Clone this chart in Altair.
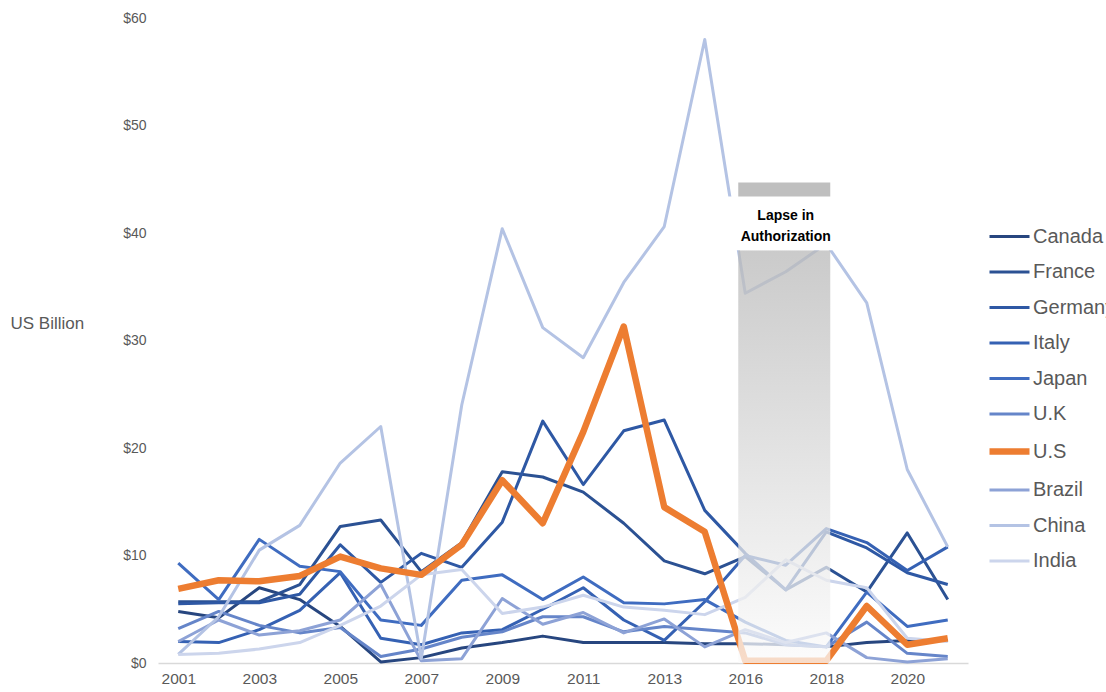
import altair as alt
import pandas as pd

years = ["2001", "2002", "2003", "2004", "2005", "2006", "2007", "2008", "2009", "2010",
         "2011", "2012", "2013", "2014", "2016", "2017", "2018", "2019", "2020", "2021"]
label_years = ["2001", "2003", "2005", "2007", "2009", "2011", "2013", "2016", "2018", "2020"]

countries = ["Canada", "France", "Germany", "Italy", "Japan", "U.K", "U.S", "Brazil", "China", "India"]
colors = ["#27467f", "#2b5193", "#2e58a4", "#3561b3", "#3f6cc0", "#6585c9", "#ed7d31",
          "#8da2d6", "#b4c3e4", "#ccd5ec"]
widths = [3, 3, 3, 3, 3, 3, 6.5, 3, 3, 3]
highlight = "U.S"

canada = [4.8, 4.2, 7.0, 5.9, 3.4, 0.1, 0.5, 1.4, 1.9, 2.5, 1.9, 1.9, 1.9, 1.8, 1.8, 1.7, 1.5, 1.9, 2.1, 2.1]
france = [5.7, 5.7, 5.7, 7.3, 12.7, 13.3, 8.5, 11.2, 17.8, 17.3, 15.9, 13.0, 9.5, 8.3, 9.9, 6.8, 8.9, 6.6, 12.1, 5.9]
germany = [5.5, 5.6, 5.6, 6.4, 11.0, 7.5, 10.2, 8.9, 13.1, 22.5, 16.6, 21.6, 22.6, 14.2, 10.2, 6.8, 12.2, 10.7, 8.4, 7.3]
italy = [2.0, 1.9, 3.1, 4.9, 8.4, 2.3, 1.7, 2.8, 3.1, 5.0, 7.0, 4.0, 2.1, 5.7, 10.0, 9.1, 12.5, 11.2, 8.6, 10.8]
japan = [9.3, 5.9, 11.5, 9.0, 8.5, 4.0, 3.5, 7.7, 8.2, 5.9, 8.0, 5.6, 5.5, 5.9, 3.8, 2.1, 1.5, 6.6, 3.4, 4.0]
uk = [3.2, 4.8, 3.5, 2.8, 3.3, 0.6, 1.3, 2.4, 2.9, 4.3, 4.3, 2.9, 3.4, 3.1, 2.8, 1.7, 1.5, 3.8, 0.9, 0.6]
us = [6.9, 7.7, 7.6, 8.1, 9.9, 8.8, 8.2, 11.0, 17.0, 13.0, 21.5, 31.3, 14.5, 12.2, 0.2, 0.2, 0.2, 5.3, 1.7, 2.3]
brazil = [2.0, 4.0, 2.6, 3.0, 4.0, 7.3, 0.2, 0.4, 6.0, 3.6, 4.7, 2.8, 4.1, 1.5, 3.1, 1.9, 2.8, 0.5, 0.1, 0.4]
china = [0.8, 4.3, 10.5, 12.8, 18.6, 22.0, 0.4, 24.0, 40.4, 31.2, 28.4, 35.4, 40.6, 58.0, 34.4, 36.4, 39.0, 33.5, 18.0, 10.8]
india = [0.8, 0.9, 1.3, 1.9, 3.5, 5.3, 8.2, 8.7, 4.6, 5.2, 6.3, 5.2, 4.9, 4.5, 6.1, 9.6, 7.7, 7.0, 2.3, 2.0]

series = [canada, france, germany, italy, japan, uk, us, brazil, china, india]

# annotation (lapse in authorization period)
lapse_start = "2016"
lapse_end = "2018"
lapse_label_year = "2017"
lapse_shade_top = 38.4
lapse_label_top = 43.4
lapse_header_top = 44.7
lapse_text = "Lapse in\nAuthorization"
lapse_text_y = 41.6

rows = []
for name, vals in zip(countries, series):
    for i, (yr, v) in enumerate(zip(years, vals)):
        rows.append({"Year": yr, "Value": v, "Country": name, "idx": i})
df = pd.DataFrame(rows)

x_scale = alt.Scale(domain=years, type="point", padding=0.5)
y_scale = alt.Scale(domain=[0, 60], nice=False)

x_enc = alt.X("Year:O", sort=years, scale=x_scale,
              axis=alt.Axis(title=None, values=label_years, labelAngle=0, ticks=False,
                            domainColor="#d9d9d9", domainWidth=1.5, labelColor="#595959",
                            labelFontSize=15.5, labelFont="Liberation Sans", labelPadding=8))
y_enc = alt.Y("Value:Q", scale=y_scale,
              axis=alt.Axis(title="US Billion", values=[0, 10, 20, 30, 40, 50, 60],
                            labelExpr="'$' + datum.value", grid=False, ticks=False, domain=False,
                            labelColor="#595959", labelFontSize=14, labelFont="Liberation Sans",
                            labelPadding=12, titleAngle=0, titleAlign="left", titleBaseline="middle",
                            titleX=-148, titleY=305, titleFontWeight="normal", titleFontSize=17,
                            titleColor="#595959", titleFont="Liberation Sans"))

legend_kw = dict(title=None, orient="none", legendX=828, legendY=197,
                 symbolType="stroke", symbolSize=1600,
                 labelFontSize=20, labelColor="#595959",
                 labelFont="Liberation Sans", labelOffset=0,
                 rowPadding=3.5, labelLimit=300, padding=0)

color_enc = alt.Color("Country:N", sort=countries,
                      scale=alt.Scale(domain=countries, range=colors),
                      legend=alt.Legend(**legend_kw))
width_enc = alt.StrokeWidth("Country:N", sort=countries,
                            scale=alt.Scale(type="ordinal", domain=countries, range=widths),
                            legend=alt.Legend(**legend_kw))

base = alt.Chart(df).encode(x=x_enc, y=y_enc, color=color_enc, strokeWidth=width_enc,
                            order=alt.Order("idx:Q"))

others = base.mark_line(strokeJoin="round").transform_filter(alt.datum.Country != highlight)
hl = base.mark_line(strokeJoin="round").transform_filter(alt.datum.Country == highlight)

ann = pd.DataFrame({"x": [lapse_start], "x2": [lapse_end],
                    "y0": [0], "y1": [lapse_shade_top], "y2": [lapse_label_top],
                    "y3": [lapse_header_top], "tx": [lapse_label_year], "ty": [lapse_text_y],
                    "label": [lapse_text]})

shade = alt.Chart(ann).mark_rect(
    xOffset=-7, x2Offset=4, opacity=0.75,
    color=alt.Gradient(gradient="linear", x1=0, y1=0, x2=0, y2=1,
                       stops=[alt.GradientStop(offset=0, color="#b9b9b9"),
                              alt.GradientStop(offset=1, color="#fbfbfb")])
).encode(x=alt.X("x:O", sort=years, scale=x_scale),
         x2="x2:O", y=alt.Y("y0:Q", scale=y_scale), y2="y1:Q")

white = alt.Chart(ann).mark_rect(xOffset=-18, x2Offset=9, color="white").encode(
    x=alt.X("x:O", sort=years), x2="x2:O", y=alt.Y("y1:Q", scale=y_scale), y2="y2:Q")

header = alt.Chart(ann).mark_rect(xOffset=-7, x2Offset=4, color="#bfbfbf").encode(
    x=alt.X("x:O", sort=years), x2="x2:O", y=alt.Y("y2:Q", scale=y_scale), y2="y3:Q")

text = alt.Chart(ann).mark_text(lineBreak="\n", fontWeight="bold", fontSize=14, lineHeight=21,
                                font="Liberation Sans", color="#000000",
                                align="center", baseline="middle").encode(
    x=alt.X("tx:O", sort=years), y=alt.Y("ty:Q", scale=y_scale), text="label:N")

chart = alt.layer(others, hl, shade, white, header, text).properties(
    width=810, height=645,
    background="white",
    autosize=alt.AutoSizeParams(type="none"),
    padding={"left": 158, "top": 18, "right": 138, "bottom": 29},
).configure_view(strokeWidth=0)

chart.save("out.html", embed_options={"renderer": "svg", "actions": False})
